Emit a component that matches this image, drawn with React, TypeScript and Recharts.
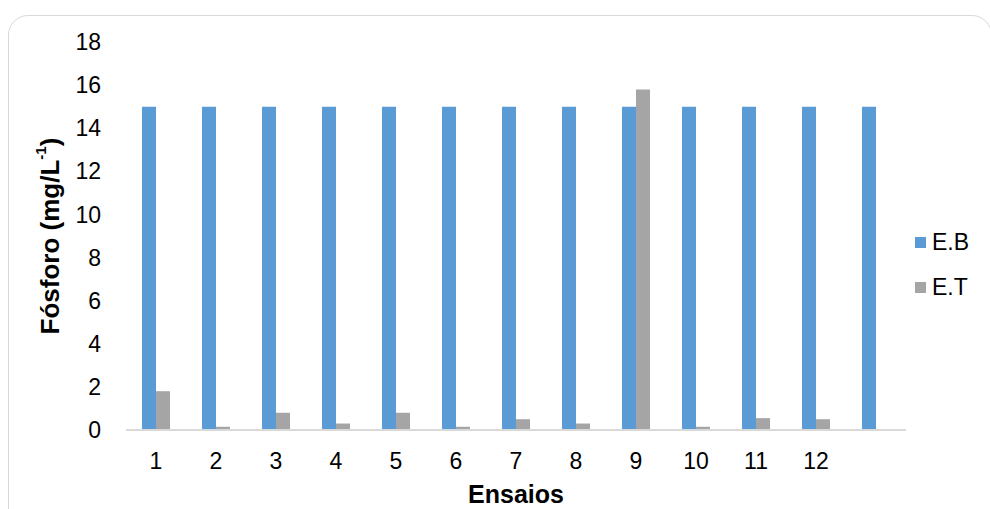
import React from 'react';
import { BarChart, Bar, XAxis, YAxis, Legend } from 'recharts';

const ENSAIOS = ['1', '2', '3', '4', '5', '6', '7', '8', '9', '10', '11', '12', ''];
const EB = [15, 15, 15, 15, 15, 15, 15, 15, 15, 15, 15, 15, 15];
const ET = [1.8, 0.15, 0.8, 0.3, 0.8, 0.15, 0.5, 0.3, 15.8, 0.15, 0.55, 0.5, null];
const Y_TICKS = [0, 2, 4, 6, 8, 10, 12, 14, 16, 18];

const FONT = '"Liberation Sans", Arial, sans-serif';
const BLUE = '#5B9BD5';
const GREY = '#A5A5A5';

const data = ENSAIOS.map((e, i) => ({ ensaio: e, eb: EB[i], et: ET[i] }));

const YLabel = (props: any) => {
  const vb = props.viewBox;
  const cx = 50;
  const cy = vb.y + vb.height / 2;
  return (
    <text
      x={cx}
      y={cy}
      transform={`rotate(-90, ${cx}, ${cy})`}
      textAnchor="middle"
      dominantBaseline="central"
      style={{ fontFamily: FONT, fontSize: 26, fontWeight: 700, fill: '#000' }}
    >
      Fósforo (mg/L
      <tspan fontSize={15} dy={-10}>-1</tspan>
      <tspan dy={10}>)</tspan>
    </text>
  );
};

const XLabel = (props: any) => {
  const vb = props.viewBox;
  return (
    <text
      x={vb.x + vb.width / 2}
      y={494}
      textAnchor="middle"
      dominantBaseline="central"
      style={{ fontFamily: FONT, fontSize: 25, fontWeight: 700, fill: '#000' }}
    >
      Ensaios
    </text>
  );
};

const LegendBox = () => (
  <div style={{ fontFamily: FONT, fontSize: 23, lineHeight: '45px', color: '#000' }}>
    {[
      { name: 'E.B', color: BLUE },
      { name: 'E.T', color: GREY },
    ].map((it) => (
      <div key={it.name} style={{ display: 'flex', alignItems: 'center', height: 45 }}>
        <span style={{ width: 11, height: 11, background: it.color, display: 'inline-block', marginRight: 6 }} />
        <span style={{ fontSize: 23 }}>{it.name}</span>
      </div>
    ))}
  </div>
);

export default function App() {
  return (
    <div
      style={{
        position: 'fixed',
        left: 0,
        top: 0,
        width: 990,
        height: 509,
        overflow: 'hidden',
        background: '#fff',
      }}
    >
      <div
        style={{
          position: 'absolute',
          left: 8,
          top: 15,
          width: 984,
          height: 540,
          border: '1.5px solid #d9d9d9',
          borderRadius: 20,
          boxSizing: 'border-box',
        }}
      />
      <div style={{ position: 'absolute', left: 0, top: 0 }}>
        <BarChart
          width={990}
          height={509}
          data={data}
          margin={{ top: 42, right: 8, left: 0, bottom: 49 }}
          barGap={0}
          barSize={14}
        >
          <XAxis
            dataKey="ensaio"
            height={30}
            axisLine={{ stroke: '#d9d9d9', strokeWidth: 2 }}
            tickLine={false}
            tickSize={0}
            tickMargin={23}
            interval={0}
            tick={{ fill: '#000', fontSize: 23, fontFamily: FONT }}
            label={<XLabel />}
          />
          <YAxis
            width={126}
            domain={[0, 18]}
            ticks={Y_TICKS}
            axisLine={false}
            tickLine={false}
            tickSize={0}
            tickMargin={25}
            tick={{ fill: '#000', fontSize: 23, fontFamily: FONT }}
            label={<YLabel />}
          />
          <Legend
            layout="vertical"
            verticalAlign="top"
            align="right"
            content={<LegendBox />}
            wrapperStyle={{ left: 915, top: 220, width: 76 }}
          />
          <Bar dataKey="eb" name="E.B" fill={BLUE} isAnimationActive={false} />
          <Bar dataKey="et" name="E.T" fill={GREY} isAnimationActive={false} />
        </BarChart>
      </div>
    </div>
  );
}
